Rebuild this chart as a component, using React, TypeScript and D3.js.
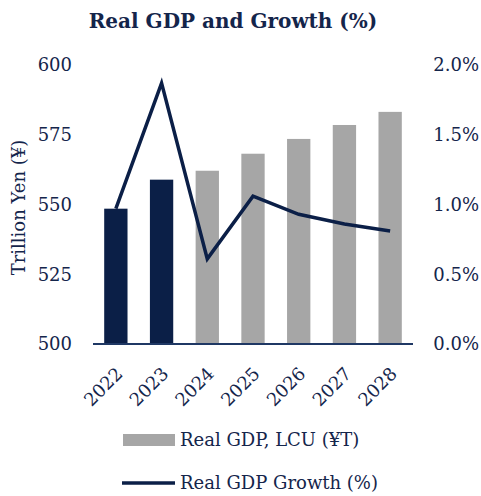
import React from "react";
import * as d3 from "d3";

const years = ["2022", "2023", "2024", "2025", "2026", "2027", "2028"];
const gdp = [548.5, 558.9, 562.1, 568.2, 573.5, 578.5, 583.2];
const growth = [0.97, 1.87, 0.61, 1.06, 0.93, 0.86, 0.81];
const actualYears = ["2022", "2023"];
const leftTicks = [500, 525, 550, 575, 600];
const rightTicks = [0, 0.5, 1.0, 1.5, 2.0];

const W = 481;
const H = 496;
const NAVY = "#0b1f47";
const TEXT = "#14254b";
const GRAY = "#a6a6a6";
const FONT = "'DejaVu Serif', 'Liberation Serif', serif";

export default function App() {
  const left = 93, right = 413, top = 65, bottom = 344;
  const x = d3.scaleBand<string>().domain(years).range([left, right]).paddingInner(0.49).paddingOuter(0.245);
  const yL = d3.scaleLinear().domain([500, 600]).range([bottom, top]);
  const yR = d3.scaleLinear().domain([0, 2]).range([bottom, top]);
  const line = d3
    .line<number>()
    .x((_, i) => (x(years[i]) as number) + x.bandwidth() / 2)
    .y((d) => yR(d));

  return (
    <svg width={W} height={H} style={{ position: "absolute", left: 0, top: 0 }} fontFamily={FONT}>
      <text x={233} y={28} textAnchor="middle" fontSize={20} fontWeight="bold" fill={TEXT}>
        Real GDP and Growth (%)
      </text>
      {gdp.map((v, i) => (
        <rect
          key={years[i]}
          x={x(years[i])}
          y={yL(v)}
          width={x.bandwidth()}
          height={bottom - yL(v)}
          fill={actualYears.includes(years[i]) ? NAVY : GRAY}
        />
      ))}
      <line x1={left} x2={right} y1={bottom} y2={bottom} stroke="#1f3864" strokeWidth={2} />
      <path d={line(growth) || ""} fill="none" stroke={NAVY} strokeWidth={3.5} strokeLinejoin="miter" />
      {leftTicks.map((t) => (
        <text key={t} x={72} y={yL(t)} dy="0.35em" textAnchor="end" fontSize={18} fill={TEXT}>
          {t}
        </text>
      ))}
      {rightTicks.map((t) => (
        <text key={t} x={479} y={yR(t)} dy="0.35em" textAnchor="end" fontSize={18} fill={TEXT}>
          {t.toFixed(1) + "%"}
        </text>
      ))}
      <text
        transform={`translate(25,${(top + bottom) / 2 + 3}) rotate(-90)`}
        textAnchor="middle"
        fontSize={18}
        fill={TEXT}
      >
        Trillion Yen (¥)
      </text>
      {years.map((yv) => {
        const cx = (x(yv) as number) + x.bandwidth() / 2;
        return (
          <text
            key={yv}
            transform={`translate(${cx - 1},${bottom + 22}) rotate(-45)`}
            textAnchor="end"
            dy="0.7em"
            fontSize={18}
            fill={TEXT}
          >
            {yv}
          </text>
        );
      })}
      <rect x={123} y={434} width={52} height={12} fill={GRAY} />
      <text x={180} y={440} dy="0.35em" fontSize={18} fill={TEXT}>
        Real GDP, LCU (¥T)
      </text>
      <line x1={122} x2={175} y1={483} y2={483} stroke={NAVY} strokeWidth={3.5} />
      <text x={180} y={483} dy="0.35em" fontSize={18} fill={TEXT}>
        Real GDP Growth (%)
      </text>
    </svg>
  );
}
